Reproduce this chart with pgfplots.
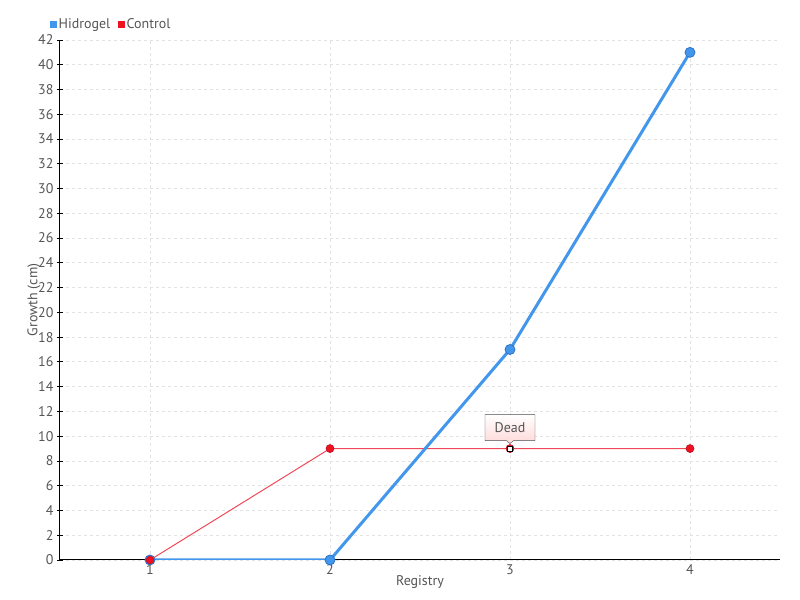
\documentclass[border=0pt]{standalone}
\usepackage{pgfplots}
\pgfplotsset{compat=1.18}
\usepackage{fontspec}
\setmainfont{PT Sans}
\usetikzlibrary{shapes.callouts}
\definecolor{hblue}{HTML}{4297EC}
\definecolor{hblued}{HTML}{2E72C8}
\definecolor{cred}{HTML}{EE1122}
\definecolor{credl}{HTML}{F04858}
\definecolor{txt}{HTML}{555555}
\definecolor{gridc}{HTML}{E2E2E2}
\begin{document}
\begin{tikzpicture}
\begin{axis}[
  scale only axis,
  width=720pt, height=520pt,
  xmin=0.5, xmax=4.5,
  ymin=0, ymax=42,
  xtick={1,2,3,4},
  ytick={0,2,...,42},
  axis x line*=bottom,
  axis y line*=left,
  axis line style={black, line width=1pt, -},
  tick align=center,
  major tick length=6pt,
  y tick style={black, line width=0.8pt},
  x tick style={draw=none},
  grid=major,
  major grid style={gridc, dashed, line width=0.8pt},
  tick label style={font=\fontsize{14}{15}\selectfont, text=txt},
  /pgf/number format/assume math mode=true,
  xticklabel style={yshift=2pt},
  xlabel={Registry},
  ylabel={Growth (cm)},
  label style={font=\fontsize{14}{15}\selectfont, text=txt},
  xlabel style={yshift=6pt},
  ylabel style={yshift=-9pt},
  legend style={at={(0,1)}, anchor=south west, xshift=-10pt, yshift=8pt,
    draw=none, fill=none, font=\fontsize{14}{15}\selectfont, text=txt,
    legend columns=-1, inner sep=0pt,
    /tikz/every odd column/.append style={column sep=0pt},
    /tikz/every even column/.append style={column sep=6pt}},
  legend cell align=left,
]
\addlegendimage{legend image code/.code={\fill[hblue] (0pt,-3pt) rectangle (6pt,3pt);}}
\addlegendentry{Hidrogel}
\addlegendimage{legend image code/.code={\fill[cred] (0pt,-3pt) rectangle (6pt,3pt);}}
\addlegendentry{Control}
\addplot[credl, line width=1pt, mark=*, mark size=4pt, mark options={fill=cred, draw=cred!80!black, line width=0.6pt}, forget plot]
  coordinates {(1,0) (2,9) (3,9) (4,9)};
\addplot[hblue, line width=3pt, mark=*, mark size=5pt, mark options={fill=hblue, draw=hblued, line width=0.8pt}, forget plot]
  coordinates {(1,0) (2,0) (3,17) (4,41)};
\addplot[only marks, mark=*, mark size=4pt, mark options={fill=cred, draw=cred!80!black}, forget plot]
  coordinates {(1,0)};
\addplot[only marks, mark=square*, mark size=2.5pt, mark options={fill=white, draw=black, line width=1pt}, forget plot]
  coordinates {(3,9)};
\node[rectangle callout, draw=gray!60!black, top color=white, bottom color=red!15,
  minimum width=50pt, minimum height=26pt, inner sep=2pt,
  font=\fontsize{14}{15}\selectfont, text=txt,
  callout absolute pointer={(axis cs:3,9.4)}]
  at ([yshift=21pt]axis cs:3,9) {Dead};
\end{axis}
\pgfresetboundingbox
\path ([shift={(-60pt,-40pt)}]current axis.south west) rectangle ([shift={(20pt,40pt)}]current axis.north east);
\end{tikzpicture}
\end{document}
